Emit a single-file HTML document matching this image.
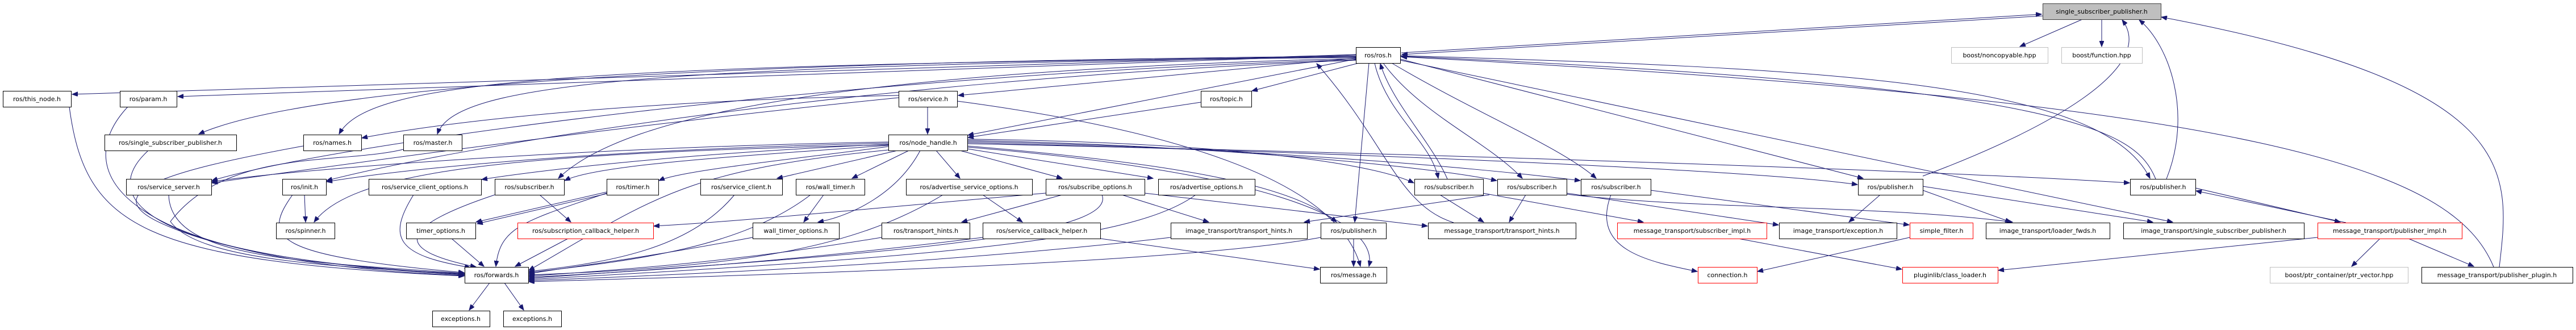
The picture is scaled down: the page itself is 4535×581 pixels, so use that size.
<!DOCTYPE html>
<html><head><meta charset="utf-8"><style>
html,body{margin:0;padding:0;background:#fff;}
svg{display:block;}
text{font-family:"DejaVu Sans","Liberation Sans",sans-serif;font-size:11px;fill:#000;text-anchor:middle;}
.n{fill:#fff;stroke:#000;stroke-width:1;}
.r{fill:#fff;stroke:#ff0000;stroke-width:1;}
.g{fill:#fff;stroke:#bfbfbf;stroke-width:1;}
.e{fill:none;stroke:#191970;stroke-width:1;marker-end:url(#a);}
</style></head><body>
<svg width="4535" height="581" viewBox="0 0 4535 581" xmlns="http://www.w3.org/2000/svg">
<defs><marker id="a" markerUnits="userSpaceOnUse" markerWidth="11" markerHeight="8" refX="10" refY="4" orient="auto"><path d="M0,0 L10,4 L0,8 z" fill="#191970" stroke="#191970"/></marker></defs>
<g>
<!-- top -->
<path class="e" d="M2467,93 L3594,25"/>
<path class="e" d="M3596,28 L2468,96"/>
<path class="e" d="M3666,34 L3556,82"/>
<path class="e" d="M3700,34 L3700,82"/>
<!-- ros.h fan out -->
<path class="e" d="M2387,96 L127,166"/>
<path class="e" d="M2387,97 L313,170"/>
<path class="e" d="M2387,99 C1000,110 500,170 350,236"/>
<path class="e" d="M2387,100 C1000,115 650,140 597,236"/>
<path class="e" d="M2387,101 C1100,115 800,150 770,236"/>
<path class="e" d="M2387,102 L1687,168"/>
<path class="e" d="M2392,111 L2204,160"/>
<path class="e" d="M2387,104 L1704,238"/>
<path class="e" d="M2387,105 C1500,130 600,250 373,318"/>
<path class="e" d="M2387,106 C1500,140 800,260 575,318"/>
<path class="e" d="M2387,103 C1500,125 1100,200 983,314"/>
<path class="e" d="M2410,111 L2385,391"/>
<path class="e" d="M2420,111 C2440,200 2520,250 2532,314"/>
<path class="e" d="M2548,315 C2520,250 2450,180 2430,112"/>
<path class="e" d="M2435,111 C2500,200 2620,250 2680,314"/>
<path class="e" d="M2450,111 C2600,200 2750,260 2810,314"/>
<path class="e" d="M2465,104 L3280,314"/>
<path class="e" d="M2465,106 L3825,391"/>
<path class="e" d="M2465,98 C3200,120 3700,140 3785,314"/>
<path class="e" d="M3795,315 C3760,230 3650,150 2467,99"/>
<path class="e" d="M4390,470 C4320,300 4000,180 2467,100"/>
<path class="e" d="M4400,470 C4420,300 4440,150 3805,30"/>
<path class="e" d="M3814,315 C3860,200 3820,80 3766,35"/>
<path class="e" d="M3385,310 C3600,230 3800,120 3736,35"/>
<!-- node_handle -->
<path class="e" d="M1564,250 C1000,260 500,300 373,320"/>
<path class="e" d="M1564,252 C1000,265 700,300 575,320"/>
<path class="e" d="M1564,254 C1200,270 950,300 848,316"/>
<path class="e" d="M1564,256 C1300,275 1050,290 994,318"/>
<path class="e" d="M1564,258 C1400,280 1200,300 1160,318"/>
<path class="e" d="M1564,255 C900,270 620,300 553,391"/>
<path class="e" d="M1580,265 L1368,314"/>
<path class="e" d="M1600,265 L1500,314"/>
<path class="e" d="M1648,265 L1690,314"/>
<path class="e" d="M1690,265 L1870,314"/>
<path class="e" d="M1703,262 L2030,314"/>
<path class="e" d="M1620,265 C1580,340 1500,380 1440,391"/>
<path class="e" d="M1703,245 C2100,250 2400,280 2489,322"/>
<path class="e" d="M1703,247 C2100,255 2500,290 2635,318"/>
<path class="e" d="M1703,249 C2200,260 2600,295 2782,318"/>
<path class="e" d="M1703,251 C2400,270 3100,300 3270,325"/>
<path class="e" d="M1703,253 C2500,270 3400,300 3749,322"/>
<path class="e" d="M1703,257 C2100,290 2280,330 2353,391"/>
<path class="e" d="M1703,259 C2200,300 2430,380 2410,469"/>
<path class="e" d="M1564,264 C1200,300 1150,350 931,476"/>
<!-- service / topic -->
<path class="e" d="M1633,188 L1633,236"/>
<path class="e" d="M1582,168 C1000,180 700,230 637,243"/>
<path class="e" d="M1582,172 C1100,220 600,290 373,322"/>
<path class="e" d="M1685,178 C2000,220 2350,300 2395,469"/>
<path class="e" d="M2114,180 L1704,242"/>
<!-- to forwards -->
<path class="e" d="M122,188 C150,400 250,460 817,486"/>
<path class="e" d="M225,188 C120,300 200,460 817,485"/>
<path class="e" d="M260,266 C180,340 220,450 817,484"/>
<path class="e" d="M534,257 C300,300 150,340 300,400 C420,450 600,470 817,483"/>
<path class="e" d="M710,263 C600,290 400,260 300,390 C350,460 600,470 817,482"/>
<path class="e" d="M297,343 C300,450 500,460 817,481"/>
<path class="e" d="M515,343 C460,420 480,450 817,480"/>
<path class="e" d="M728,343 C680,420 700,450 828,471"/>
<path class="e" d="M871,343 C700,400 690,440 838,470"/>
<path class="e" d="M1068,340 C920,390 880,400 873,469"/>
<path class="e" d="M795,420 L852,469"/>
<path class="e" d="M1000,420 L907,469"/>
<path class="e" d="M1293,343 C1220,430 1100,460 931,478"/>
<path class="e" d="M1427,343 C1300,440 1100,460 931,480"/>
<path class="e" d="M1325,418 C1100,460 1000,470 931,482"/>
<path class="e" d="M1660,343 C1500,440 1300,470 931,484"/>
<path class="e" d="M1552,418 C1300,460 1100,475 931,486"/>
<path class="e" d="M1730,418 C1400,460 1100,480 931,488"/>
<path class="e" d="M1940,343 C1970,420 1500,450 931,490"/>
<path class="e" d="M2105,343 C2000,420 1700,450 931,492"/>
<path class="e" d="M2061,418 C1700,460 1300,480 931,494"/>
<path class="e" d="M2325,418 C2100,460 1500,480 931,496"/>
<path class="e" d="M862,498 L826,546"/>
<path class="e" d="M888,498 L922,546"/>
<!-- row3 -> row4 misc -->
<path class="e" d="M536,343 L538,391"/>
<path class="e" d="M950,343 L1005,391"/>
<path class="e" d="M1068,338 L838,391"/>
<path class="e" d="M1068,341 L840,394"/>
<path class="e" d="M1450,343 L1415,391"/>
<path class="e" d="M1870,343 L1693,391"/>
<path class="e" d="M1841,340 C1500,370 1300,390 1151,398"/>
<path class="e" d="M1975,343 L2128,391"/>
<path class="e" d="M2015,340 L2513,398"/>
<path class="e" d="M1730,343 L1800,391"/>
<path class="e" d="M2383,420 L2383,469"/>
<path class="e" d="M1937,420 L2323,474"/>
<path class="e" d="M2559,392 C2460,360 2440,250 2318,112"/>
<path class="e" d="M2535,343 L2612,391"/>
<path class="e" d="M2610,340 L2893,391"/>
<path class="e" d="M2622,343 L2296,391"/>
<path class="e" d="M2686,343 L2657,391"/>
<path class="e" d="M2758,340 L3131,396"/>
<path class="e" d="M2758,342 C3000,370 3300,360 3543,391"/>
<path class="e" d="M2836,343 C2800,440 2900,460 2988,478"/>
<path class="e" d="M2906,335 L3361,396"/>
<path class="e" d="M3310,343 L3255,391"/>
<path class="e" d="M3385,335 L3540,391"/>
<path class="e" d="M3385,328 L3790,391"/>
<path class="e" d="M3362,418 L3094,478"/>
<path class="e" d="M3060,420 L3348,474"/>
<path class="e" d="M4080,418 L3518,476"/>
<path class="e" d="M4190,420 L4140,469"/>
<path class="e" d="M4240,420 L4355,469"/>
<path class="e" d="M3865,331 L4120,391"/>
<path class="e" d="M4130,392 L3866,336"/>
</g>
<g>
<rect x="3596.5" y="6.5" width="208" height="28" fill="#bfbfbf" stroke="#404040"/><text x="3700" y="24">single_subscriber_publisher.h</text>
<rect class="n" x="2387.5" y="83.5" width="78" height="28"/><text x="2426" y="101">ros/ros.h</text>
<rect class="g" x="3435.5" y="83.5" width="170" height="28"/><text x="3520" y="101">boost/noncopyable.hpp</text>
<rect class="g" x="3629.5" y="83.5" width="142" height="28"/><text x="3700" y="101">boost/function.hpp</text>

<rect class="n" x="5.5" y="160.5" width="120" height="28"/><text x="65" y="178">ros/this_node.h</text>
<rect class="n" x="211.5" y="160.5" width="100" height="28"/><text x="261" y="178">ros/param.h</text>
<rect class="n" x="1582.5" y="160.5" width="103" height="28"/><text x="1634" y="178">ros/service.h</text>
<rect class="n" x="2114.5" y="160.5" width="89" height="28"/><text x="2159" y="178">ros/topic.h</text>

<rect class="n" x="184.5" y="237.5" width="232" height="28"/><text x="300" y="255">ros/single_subscriber_publisher.h</text>
<rect class="n" x="534.5" y="237.5" width="102" height="28"/><text x="585" y="255">ros/names.h</text>
<rect class="n" x="710.5" y="237.5" width="103" height="28"/><text x="762" y="255">ros/master.h</text>
<rect class="n" x="1564.5" y="237.5" width="139" height="28"/><text x="1634" y="255">ros/node_handle.h</text>

<rect class="n" x="222.5" y="315.5" width="150" height="28"/><text x="297" y="333">ros/service_server.h</text>
<rect class="n" x="497.5" y="315.5" width="77" height="28"/><text x="536" y="333">ros/init.h</text>
<rect class="n" x="649.5" y="315.5" width="198" height="28"/><text x="748" y="333">ros/service_client_options.h</text>
<rect class="n" x="871.5" y="315.5" width="122" height="28"/><text x="932" y="333">ros/subscriber.h</text>
<rect class="n" x="1068.5" y="315.5" width="91" height="28"/><text x="1114" y="333">ros/timer.h</text>
<rect class="n" x="1233.5" y="315.5" width="144" height="28"/><text x="1305" y="333">ros/service_client.h</text>
<rect class="n" x="1401.5" y="315.5" width="121" height="28"/><text x="1462" y="333">ros/wall_timer.h</text>
<rect class="n" x="1595.5" y="315.5" width="222" height="28"/><text x="1706" y="333">ros/advertise_service_options.h</text>
<rect class="n" x="1841.5" y="315.5" width="174" height="28"/><text x="1928" y="333">ros/subscribe_options.h</text>
<rect class="n" x="2039.5" y="315.5" width="170" height="28"/><text x="2124" y="333">ros/advertise_options.h</text>
<rect class="n" x="2490.5" y="315.5" width="121" height="28"/><text x="2551" y="333">ros/subscriber.h</text>
<rect class="n" x="2636.5" y="315.5" width="122" height="28"/><text x="2697" y="333">ros/subscriber.h</text>
<rect class="n" x="2783.5" y="315.5" width="123" height="28"/><text x="2845" y="333">ros/subscriber.h</text>
<rect class="n" x="3271.5" y="315.5" width="114" height="28"/><text x="3328" y="333">ros/publisher.h</text>
<rect class="n" x="3750.5" y="315.5" width="115" height="28"/><text x="3808" y="333">ros/publisher.h</text>

<rect class="n" x="486.5" y="392.5" width="103" height="28"/><text x="538" y="410">ros/spinner.h</text>
<rect class="n" x="715.5" y="392.5" width="122" height="28"/><text x="776" y="410">timer_options.h</text>
<rect class="r" x="911.5" y="392.5" width="239" height="28"/><text x="1031" y="410">ros/subscription_callback_helper.h</text>
<rect class="n" x="1325.5" y="392.5" width="152" height="28"/><text x="1401" y="410">wall_timer_options.h</text>
<rect class="n" x="1552.5" y="392.5" width="155" height="28"/><text x="1630" y="410">ros/transport_hints.h</text>
<rect class="n" x="1730.5" y="392.5" width="207" height="28"/><text x="1834" y="410">ros/service_callback_helper.h</text>
<rect class="n" x="2061.5" y="392.5" width="240" height="28"/><text x="2181" y="410">image_transport/transport_hints.h</text>
<rect class="n" x="2325.5" y="392.5" width="115" height="28"/><text x="2383" y="410">ros/publisher.h</text>
<rect class="n" x="2514.5" y="392.5" width="260" height="28"/><text x="2644" y="410">message_transport/transport_hints.h</text>
<rect class="r" x="2847.5" y="392.5" width="263" height="28"/><text x="2979" y="410">message_transport/subscriber_impl.h</text>
<rect class="n" x="3132.5" y="392.5" width="207" height="28"/><text x="3236" y="410">image_transport/exception.h</text>
<rect class="r" x="3362.5" y="392.5" width="111" height="28"/><text x="3418" y="410">simple_filter.h</text>
<rect class="n" x="3496.5" y="392.5" width="218" height="28"/><text x="3605" y="410">image_transport/loader_fwds.h</text>
<rect class="n" x="3738.5" y="392.5" width="318" height="28"/><text x="3897" y="410">image_transport/single_subscriber_publisher.h</text>
<rect class="r" x="4080.5" y="392.5" width="254" height="28"/><text x="4207" y="410">message_transport/publisher_impl.h</text>

<rect class="n" x="818.5" y="470.5" width="112" height="28"/><text x="874" y="488">ros/forwards.h</text>
<rect class="n" x="2324.5" y="470.5" width="117" height="28"/><text x="2383" y="488">ros/message.h</text>
<rect class="r" x="2989.5" y="470.5" width="104" height="28"/><text x="3041" y="488">connection.h</text>
<rect class="r" x="3349.5" y="470.5" width="168" height="28"/><text x="3433" y="488">pluginlib/class_loader.h</text>
<rect class="g" x="3996.5" y="470.5" width="243" height="28"/><text x="4118" y="488">boost/ptr_container/ptr_vector.hpp</text>
<rect class="n" x="4263.5" y="470.5" width="266" height="28"/><text x="4396" y="488">message_transport/publisher_plugin.h</text>

<rect class="n" x="761.5" y="547.5" width="101" height="28"/><text x="811" y="565">exceptions.h</text>
<rect class="n" x="886.5" y="547.5" width="102" height="28"/><text x="937" y="565">exceptions.h</text>
</g>
</svg>
</body></html>
